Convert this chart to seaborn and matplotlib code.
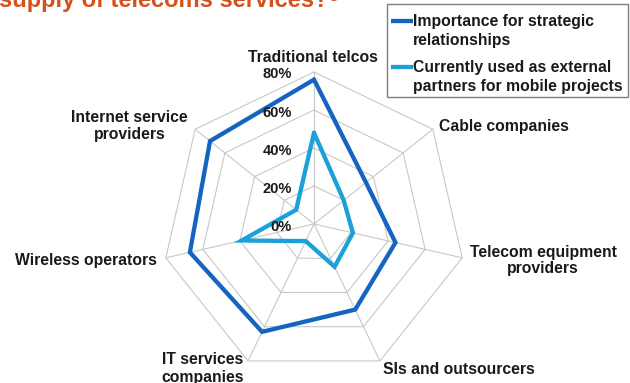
import numpy as np
import pandas as pd
import matplotlib
matplotlib.use("Agg")
import matplotlib.pyplot as plt
from matplotlib.patches import Rectangle
from matplotlib.lines import Line2D
import seaborn as sns

# ---- data -------------------------------------------------------------
categories = [
    "Traditional telcos",
    "Cable companies",
    "Telecom equipment providers",
    "SIs and outsourcers",
    "IT services companies",
    "Wireless operators",
    "Internet service providers",
]
importance = [0.76, 0.35, 0.44, 0.50, 0.63, 0.67, 0.70]
currently_used = [0.48, 0.20, 0.21, 0.25, 0.10, 0.39, 0.12]
ring_values = [0.2, 0.4, 0.6, 0.8]
ring_labels = ["0%", "20%", "40%", "60%", "80%"]
series_names = [
    "Importance for strategic\nrelationships",
    "Currently used as external\npartners for mobile projects",
]
title_text = "supply of telecoms services?\u2076"

# ---- style ------------------------------------------------------------
sns.set_style("white")
plt.rcParams["font.family"] = ["Liberation Sans", "DejaVu Sans"]

DARK = "#1565C0"
LIGHT = "#1BA1D8"
GRID = "#C8C8C8"
TEXT = "#1A1A1A"

W, H = 630, 383
fig = plt.figure(figsize=(W / 100, H / 100), dpi=100)


def fx(px):
    return px / W


def fy(py):
    return 1 - py / H


# polar axes: centre at (314, 224) px, radius 152 px for 80 %
cx, cy, rad = 314, 224, 152
ax = fig.add_axes([fx(cx - rad), fy(cy + rad), 2 * rad / W, 2 * rad / H],
                  projection="polar")
ax.set_theta_zero_location("N")
ax.set_theta_direction(-1)
ax.set_ylim(0, 0.8)
ax.grid(False)
ax.set_xticks([])
ax.set_yticks([])
ax.spines["polar"].set_visible(False)
ax.patch.set_alpha(0)

n = len(categories)
theta = np.linspace(0, 2 * np.pi, n, endpoint=False)
theta_closed = np.append(theta, 2 * np.pi)

# heptagonal grid rings and spokes
for r in ring_values:
    ax.plot(theta_closed, [r] * (n + 1), color=GRID, lw=0.8, zorder=1,
            clip_on=False)
for t in theta:
    ax.plot([t, t], [0, ring_values[-1]], color=GRID, lw=0.8, zorder=1,
            clip_on=False)

# series polygons
for values, color in [(importance, DARK), (currently_used, LIGHT)]:
    df = pd.DataFrame({"theta": theta_closed,
                       "r": list(values) + [values[0]]})
    sns.lineplot(data=df, x="theta", y="r", ax=ax, sort=False,
                 estimator=None, color=color, lw=3.1, legend=False,
                 zorder=3, clip_on=False)
for line in ax.get_lines():
    line.set_solid_joinstyle("miter")
ax.set_xlabel("")
ax.set_ylabel("")

# radial tick labels along the top spoke
for lab, py in zip(ring_labels, [230.7, 193.3, 155.0, 117.3, 78.3]):
    fig.text(fx(292), fy(py), lab, ha="right", va="baseline",
             fontsize=10.5, fontweight="bold", color=TEXT)

# category labels
lab_kw = dict(fontsize=11.3, fontweight="bold", color=TEXT, va="baseline",
              linespacing=1.05)
fig.text(fx(313), fy(62), "Traditional telcos", ha="center", **lab_kw)
fig.text(fx(439), fy(130.5), "Cable companies", ha="left", **lab_kw)
fig.text(fx(543), fy(256.5), "Telecom equipment", ha="center", **lab_kw)
fig.text(fx(543), fy(273.3), "providers", ha="center", **lab_kw)
fig.text(fx(383), fy(374), "SIs and outsourcers", ha="left", **lab_kw)
fig.text(fx(202.5), fy(364), "IT services", ha="center", **lab_kw)
fig.text(fx(202.5), fy(381.7), "companies", ha="center", **lab_kw)
fig.text(fx(157), fy(265), "Wireless operators", ha="right", **lab_kw)
fig.text(fx(129.5), fy(121.7), "Internet service", ha="center", **lab_kw)
fig.text(fx(129.5), fy(139.3), "providers", ha="center", **lab_kw)

# title (runs off the top edge)
fig.text(fx(-1), fy(7), title_text, ha="left", va="baseline",
         fontsize=17, fontweight="bold", color="#D4501C")

# legend box
fig.patches.append(Rectangle((fx(387), fy(97)), fx(628) - fx(387),
                             fy(4) - fy(97), transform=fig.transFigure,
                             fill=False, edgecolor="#7F7F7F", lw=1.0))
for name, color, py in zip(series_names, [DARK, LIGHT], [20.7, 67.0]):
    fig.lines.append(Line2D([fx(390.5), fx(413)], [fy(py), fy(py)],
                            transform=fig.transFigure, color=color, lw=3.1,
                            solid_capstyle="butt"))
    first, second = name.split("\n")
    fig.text(fx(413), fy(py + 5), first, ha="left", va="baseline",
             fontsize=11.3, fontweight="bold", color=TEXT)
    fig.text(fx(413), fy(py + 24.5), second, ha="left", va="baseline",
             fontsize=11.3, fontweight="bold", color=TEXT)

fig.savefig("out.png", dpi=100)
